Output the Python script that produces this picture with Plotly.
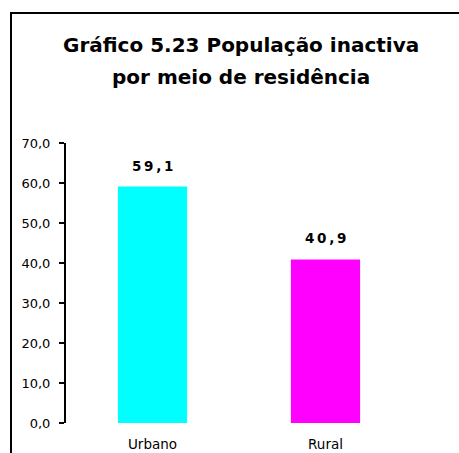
import plotly.graph_objects as go

categories = ["Urbano", "Rural"]
values = [59.1, 40.9]
colors = ["#00FFFF", "#FF00FF"]
title_lines = ["Gráfico 5.23 População inactiva", "por meio de residência"]
y_ticks = [0, 10, 20, 30, 40, 50, 60, 70]

W, H = 459, 453
L, R, T, B = 66, 47, 143, 30
plot_w = W - L - R
plot_h = H - T - B
FONT = "DejaVu Sans, Arial"


def px_to_paper_x(px):
    return (px - L) / plot_w


def px_to_paper_y(py):
    return (H - B - py) / plot_h


def spaced(v):
    # value label with wide letter spacing
    s = f"{v:.1f}".replace(".", ",")
    return "\u2009".join(s)


fig = go.Figure(
    go.Bar(
        x=categories,
        y=values,
        marker=dict(color=colors, line=dict(width=0)),
        width=0.4,
        showlegend=False,
        hoverinfo="skip",
    )
)

annotations = []
for c, v in zip(categories, values):
    annotations.append(dict(
        x=c, y=v, xref="x", yref="y", text=f"<b>{spaced(v)}</b>",
        showarrow=False, yanchor="bottom", yshift=11,
        font=dict(family=FONT, size=13.5, color="#000000"),
    ))

for i, line in enumerate(title_lines):
    annotations.append(dict(
        x=px_to_paper_x(241), y=px_to_paper_y(45 + 32 * i), xref="paper", yref="paper",
        text=f"<b>{line}</b>", showarrow=False, xanchor="center", yanchor="middle",
        font=dict(family=FONT, size=20, color="#000000"),
    ))

fig.update_layout(
    width=W, height=H,
    margin=dict(l=L, r=R, t=T, b=B, pad=0, autoexpand=False),
    paper_bgcolor="#FFFFFF",
    plot_bgcolor="#FFFFFF",
    separators=",.",
    annotations=annotations,
    shapes=[dict(
        type="rect", xref="paper", yref="paper",
        x0=px_to_paper_x(11), y0=px_to_paper_y(H + 20),
        x1=px_to_paper_x(W + 20), y1=px_to_paper_y(13),
        line=dict(color="#000000", width=2), fillcolor="rgba(0,0,0,0)",
        layer="below",
    )],
    bargap=0.6,
)

fig.update_yaxes(
    range=[0, 70], tickvals=y_ticks, tickformat=".1f",
    showgrid=False, zeroline=False, automargin=False,
    showline=True, linecolor="#000000", linewidth=2,
    ticks="outside", ticklen=5, tickwidth=2, tickcolor="#000000",
    ticklabelstandoff=6,
    tickfont=dict(family=FONT, size=13, color="#000000"),
)
fig.update_xaxes(
    showgrid=False, zeroline=False, showline=False, ticks="", automargin=False,
    ticklabelstandoff=11,
    tickfont=dict(family=FONT, size=13.5, color="#000000"),
)

fig.write_html("out.html")
